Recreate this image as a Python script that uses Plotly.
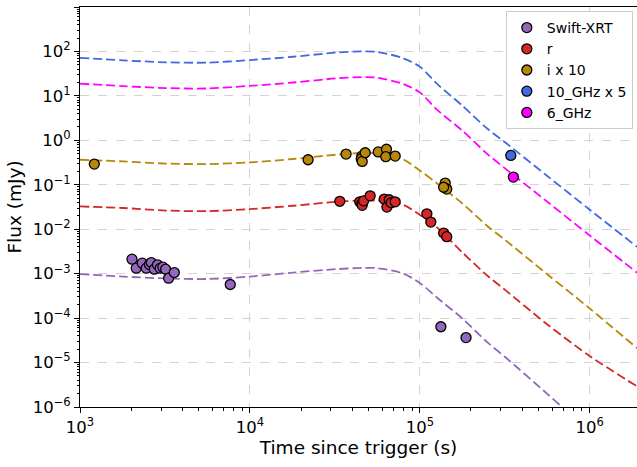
import plotly.graph_objects as go

# ---------------- data ----------------
# model curves (dashed lines)
model_time = [1.0e3, 1.8e3, 3.2e3, 5.6e3, 1.0e4, 1.8e4, 3.2e4, 4.6e4, 5.6e4,
              7.9e4, 1.0e5, 1.26e5, 1.78e5, 2.5e5, 3.2e5, 5.6e5, 1.0e6, 1.9e6]
model_xrt = [9.75e-4, 8.6e-4, 7.8e-4, 7.6e-4, 8.6e-4, 1.06e-3, 1.26e-3, 1.35e-3, 1.33e-3,
             1.02e-3, 6.2e-4, 2.9e-4, 9.8e-5, 2.84e-5, 1.3e-5, 2.0e-6, 2.8e-7, 3.5e-8]
model_r = [0.0325, 0.030, 0.0263, 0.0255, 0.0284, 0.0337, 0.0414, 0.0443, 0.044,
           0.036, 0.021, 0.011, 3.0e-3, 9.0e-4, 4.2e-4, 7.3e-5, 1.4e-5, 2.9e-6]
model_i10 = [0.366, 0.335, 0.30, 0.292, 0.318, 0.38, 0.474, 0.52, 0.51,
             0.38, 0.21, 0.108, 0.038, 0.0117, 5.6e-3, 9.8e-4, 1.64e-4, 2.1e-5]
model_10ghz5 = [71.5, 63.0, 57.0, 56.0, 64.0, 76.0, 94.0, 100.0, 97.5,
                71.5, 45.5, 18.8, 6.0, 1.82, 0.88, 0.16, 0.0274, 0.0040]
model_6ghz = [18.8, 16.6, 15.0, 14.7, 16.8, 20.0, 24.7, 26.5, 25.6,
              18.8, 12.0, 4.9, 1.65, 0.49, 0.228, 0.042, 0.0072, 0.00105]

# observations
xrt_time = [2023, 2143, 2325, 2454, 2560, 2626, 2735, 2860, 2965, 3075, 3190, 3322, 3589,
            7660, 1.33e5, 1.87e5]
xrt_flux = [2.12e-3, 1.33e-3, 1.72e-3, 1.33e-3, 1.60e-3, 1.78e-3, 1.26e-3, 1.58e-3, 1.33e-3,
            1.40e-3, 1.26e-3, 7.9e-4, 1.06e-3, 5.7e-4, 6.4e-5, 3.64e-5]

r_time = [3.38e4, 4.43e4, 4.55e4, 4.58e4, 4.67e4, 5.1e4, 6.17e4, 6.4e4, 6.6e4, 6.78e4,
          7.16e4, 1.10e5, 1.16e5, 1.38e5, 1.44e5]
r_flux = [0.0425, 0.0414, 0.0373, 0.0345, 0.0436, 0.0565, 0.0476, 0.0315, 0.046, 0.0394,
          0.0414, 0.0222, 0.0145, 8.2e-3, 6.8e-3]

i_time = [1214, 2.2e4, 3.68e4, 4.56e4, 4.52e4, 4.58e4, 4.77e4, 5.69e4, 6.36e4, 6.3e4,
          7.16e4, 1.41e5, 1.44e5, 1.38e5]
i_flux = [0.292, 0.366, 0.491, 0.443, 0.385, 0.335, 0.526, 0.548, 0.63, 0.428,
          0.443, 0.109, 0.080, 0.088]

ghz10_time = [3.43e5]
ghz10_flux = [0.457]
ghz6_time = [3.55e5]
ghz6_flux = [0.149]

x_tick_vals = [1e3, 1e4, 1e5, 1e6]
x_tick_text = ["10<sup>3</sup>", "10<sup>4</sup>", "10<sup>5</sup>", "10<sup>6</sup>"]
y_tick_vals = [1e-6, 1e-5, 1e-4, 1e-3, 1e-2, 1e-1, 1e0, 1e1, 1e2, 1e3]
y_tick_text = ["10<sup>\u22126</sup>", "10<sup>\u22125</sup>", "10<sup>\u22124</sup>",
               "10<sup>\u22123</sup>", "10<sup>\u22122</sup>", "10<sup>\u22121</sup>",
               "10<sup>0</sup>", "10<sup>1</sup>", "10<sup>2</sup>", "10<sup>3</sup>"]

series = [
    ("Swift-XRT", "#9467bd", xrt_time, xrt_flux, model_xrt),
    ("r", "#d62728", r_time, r_flux, model_r),
    ("i x 10", "#b8860b", i_time, i_flux, model_i10),
    ("10_GHz x 5", "#4169e1", ghz10_time, ghz10_flux, model_10ghz5),
    ("6_GHz", "#ff00ff", ghz6_time, ghz6_flux, model_6ghz),
]

FONT = "DejaVu Sans"
fig = go.Figure()

for name, color, t, f, m in series:
    fig.add_trace(go.Scatter(x=model_time, y=m, mode="lines", showlegend=False,
                             line=dict(color=color, width=1.8, dash="9px,4px", shape="spline", smoothing=0.8),
                             hoverinfo="skip"))

for name, color, t, f, m in series:
    fig.add_trace(go.Scatter(x=t, y=f, mode="markers", name=name,
                             marker=dict(color=color, size=10, line=dict(color="black", width=1.3))))

minor_x = [k * 10 ** e for e in range(3, 7) for k in range(2, 10)]
minor_y = [k * 10.0 ** e for e in range(-6, 3) for k in range(2, 10)]

fig.update_layout(
    width=637, height=467,
    margin=dict(l=80, r=0, t=7, b=60),
    paper_bgcolor="white", plot_bgcolor="white",
    font=dict(family=FONT, color="black", size=16),
    legend=dict(x=0.9925, y=0.99, xanchor="right", yanchor="top",
                bgcolor="white", bordercolor="#cccccc", borderwidth=1,
                font=dict(family=FONT, size=14), tracegroupgap=0),
    xaxis=dict(type="log", range=[3, 6.278], tickvals=x_tick_vals, ticktext=x_tick_text,
               ticks="outside", ticklen=5, tickwidth=1, tickcolor="black",
               showline=True, linecolor="black", linewidth=1, mirror=True,
               showgrid=True, gridcolor="#d3d3d3", griddash="dash", gridwidth=1,
               zeroline=False, tickfont=dict(size=16.5), automargin=False,
               minor=dict(tickvals=minor_x, ticks="outside", ticklen=2.5, tickcolor="black", showgrid=False),
               title=dict(text="Time since trigger (s)", font=dict(size=18.5), standoff=4)),
    yaxis=dict(type="log", range=[-6, 3], tickvals=y_tick_vals, ticktext=y_tick_text,
               ticks="outside", ticklen=5, tickwidth=1, tickcolor="black",
               showline=True, linecolor="black", linewidth=1, mirror=False,
               showgrid=True, gridcolor="#d3d3d3", griddash="dash", gridwidth=1,
               zeroline=False, tickfont=dict(size=16.5), automargin=False,
               minor=dict(tickvals=minor_y, ticks="outside", ticklen=2.5, tickcolor="black", showgrid=False),
               title=dict(text="Flux (mJy)", font=dict(size=18.5), standoff=6)),
)

fig.write_html("out.html", config={"displayModeBar": False},
               post_script="document.body.style.margin='0';document.body.style.padding='0';")
